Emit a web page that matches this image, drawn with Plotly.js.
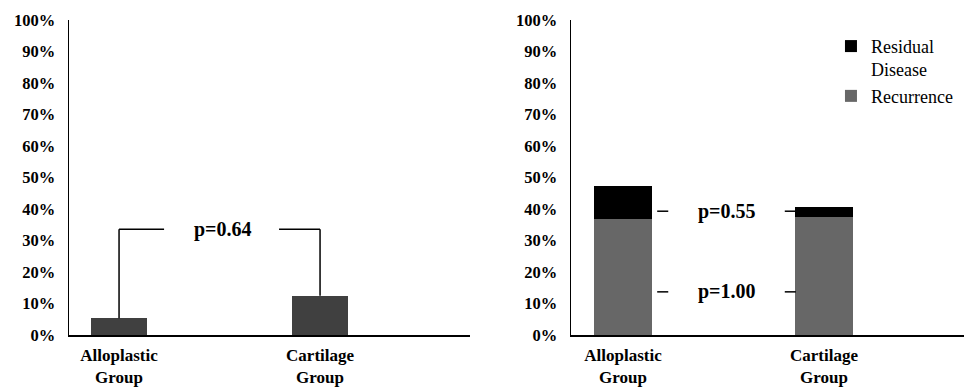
<!DOCTYPE html>
<html><head><meta charset="utf-8">
<script src="https://cdn.plot.ly/plotly-3.0.1.min.js"></script>
<style>html,body{margin:0;padding:0;background:#fff}#chart{width:964px;height:388px}</style>
</head><body><div id="chart"></div>
<script>
// ---- data ----
const categories = ['Alloplastic<br>Group', 'Cartilage<br>Group'];
const leftValues = [5.3, 12.5];            // left panel (%)
const recurrence = [36.8, 37.6];           // right panel, grey segment (%)
const residual = [10.4, 3.0];              // right panel, black segment (%)
const yTicks = [0,10,20,30,40,50,60,70,80,90,100];
const yTickLabels = ['0%','10%','20%','30%','40%','50%','60%','70%','80%','90%','100%'];
const leftBracketLevel = 33.6;             // bracket height (%)
const leftPLabel = 'p=0.64';
const rightPLevels = [39.3, 13.7];         // p-value marker heights (%)
const rightPLabels = ['p=0.55', 'p=1.00'];

const serif = '"Liberation Serif", "Times New Roman", serif';
const tickFont = {family: serif, size: 16.5, color: '#000', weight: 'bold'};

const traces = [
  {type:'bar', x:categories, y:leftValues, xaxis:'x', yaxis:'y', width:0.28,
   marker:{color:'#404040', line:{width:0}}, showlegend:false, hoverinfo:'skip'},
  {type:'bar', name:'Recurrence', x:categories, y:recurrence, xaxis:'x2', yaxis:'y2', width:0.285,
   marker:{color:'#676767', line:{width:0}}},
  {type:'bar', name:'Residual<br>Disease', x:categories, y:residual, xaxis:'x2', yaxis:'y2', width:0.285,
   marker:{color:'#000000', line:{width:0}}}
];

const shapes = [];
const lineStyle = {color:'#000', width:1.5};
shapes.push({type:'line', xref:'x', yref:'y', x0:0, x1:0, y0:leftValues[0], y1:leftBracketLevel, line:lineStyle});
shapes.push({type:'line', xref:'x', yref:'y', x0:0, x1:0.224, y0:leftBracketLevel, y1:leftBracketLevel, line:lineStyle});
shapes.push({type:'line', xref:'x', yref:'y', x0:0.796, x1:1, y0:leftBracketLevel, y1:leftBracketLevel, line:lineStyle});
shapes.push({type:'line', xref:'x', yref:'y', x0:1, x1:1, y0:leftValues[1], y1:leftBracketLevel, line:lineStyle});
rightPLevels.forEach(function(lv){
  shapes.push({type:'line', xref:'x2', yref:'y2', x0:0.17, x1:0.225, y0:lv, y1:lv, line:lineStyle});
  shapes.push({type:'line', xref:'x2', yref:'y2', x0:0.805, x1:0.86, y0:lv, y1:lv, line:lineStyle});
});

const pFont = {family: serif, size: 20, color:'#000', weight:'bold'};
const annotations = [
  {xref:'x', yref:'y', x:0.517, y:leftBracketLevel, text:leftPLabel, showarrow:false, font:pFont}
];
rightPLevels.forEach(function(lv, i){
  annotations.push({xref:'x2', yref:'y2', x:0.515, y:lv, text:rightPLabels[i], showarrow:false, font:pFont});
});

const yaxisBase = {range:[0,100], tickmode:'array', tickvals:yTicks, ticktext:yTickLabels, showgrid:false, zeroline:false,
  showline:true, linecolor:'#000', linewidth:1.5, ticks:'', tickfont:tickFont, fixedrange:true, ticklabelstandoff:9};
const xaxisBase = {type:'category', showgrid:false, zeroline:false, showline:true, linecolor:'#000', linewidth:1.5,
  ticks:'', tickfont:{family:serif, size:17, color:'#000', weight:'bold'}, fixedrange:true, ticklabelstandoff:4};

const layout = {
  width:964, height:388,
  margin:{l:0, r:0, t:20, b:53},
  paper_bgcolor:'#fff', plot_bgcolor:'#fff',
  barmode:'stack', bargap:0,
  showlegend:true,
  legend:{x:0.862, xanchor:'left', y:0.975, yanchor:'top', bgcolor:'rgba(0,0,0,0)',
          font:{family:serif, size:18, color:'#000'}, valign:'top', tracegroupgap:0},
  xaxis:Object.assign({}, xaxisBase, {domain:[69/964, 470/964], range:[-0.249, 1.746], anchor:'y'}),
  yaxis:Object.assign({}, yaxisBase, {anchor:'x'}),
  xaxis2:Object.assign({}, xaxisBase, {domain:[571/964, 1], range:[-0.259, 1.697], anchor:'y2'}),
  yaxis2:Object.assign({}, yaxisBase, {anchor:'x2'}),
  shapes:shapes, annotations:annotations
};
Plotly.newPlot('chart', traces, layout, {displayModeBar:false, staticPlot:true});
</script></body></html>
